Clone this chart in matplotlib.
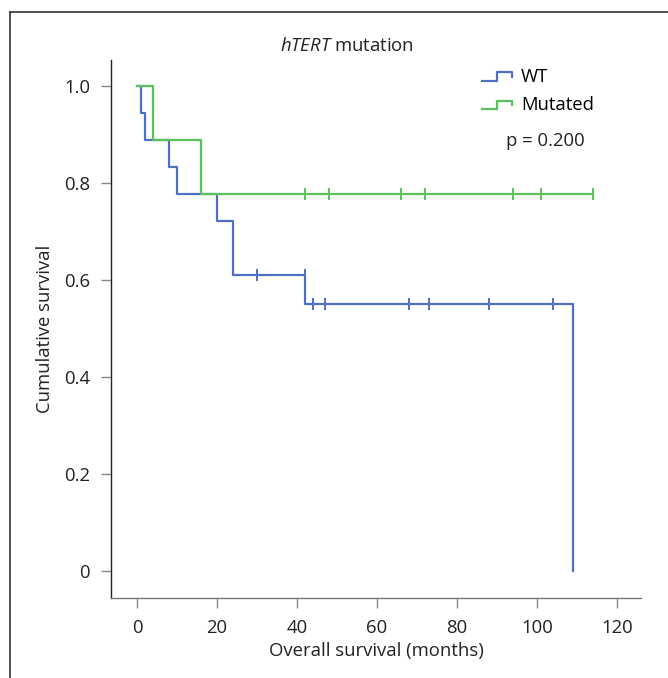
import matplotlib
matplotlib.use("Agg")
import matplotlib.pyplot as plt
from matplotlib.lines import Line2D
from matplotlib.legend_handler import HandlerBase

plt.rcParams["font.family"] = ["Open Sans", "DejaVu Sans"]
plt.rcParams["mathtext.fontset"] = "custom"
plt.rcParams["mathtext.rm"] = "Open Sans"
plt.rcParams["mathtext.it"] = "Open Sans:italic"

# Kaplan-Meier steps
wt_times = [0, 1, 2, 8, 10, 20, 24, 42, 109]
wt_surv = [1.0, 0.944, 0.889, 0.833, 0.778, 0.722, 0.611, 0.550, 0.0]
wt_censor = [30, 42, 44, 47, 68, 73, 88, 104]

mut_times = [0, 4, 16, 114]
mut_surv = [1.0, 0.889, 0.778, 0.778]
mut_censor = [42, 48, 66, 72, 94, 101, 114]

x_ticks = [0, 20, 40, 60, 80, 100, 120]
y_ticks = [0, 0.2, 0.4, 0.6, 0.8, 1.0]
y_labels = ["0", "0.2", "0.4", "0.6", "0.8", "1.0"]

BLUE = "#4f6fc4"
GREEN = "#5cc05c"


def surv_at(times, surv, t):
    val = surv[0]
    for ti, si in zip(times, surv):
        if ti <= t:
            val = si
    return val


class StepHandler(HandlerBase):
    def create_artists(self, legend, orig_handle, xdescent, ydescent,
                       width, height, fontsize, trans):
        x0, x1 = -xdescent, -xdescent + width
        y0, y1 = -ydescent + 0.1 * height, -ydescent + 0.75 * height
        xm = x0 + 0.5 * width
        xs = [x0, xm, xm, x1, x1]
        ys = [y0, y0, y1, y1, y1 - 0.35 * height]
        ln = Line2D(xs, ys, color=orig_handle.get_color(),
                    linewidth=orig_handle.get_linewidth(), transform=trans)
        return [ln]


fig = plt.figure(figsize=(6.68, 6.78), dpi=100)
ax = fig.add_axes([0.1662, 0.118, 0.7934, 0.7935])

ax.step(wt_times, wt_surv, where="post", color=BLUE, lw=1.6)
ax.step(mut_times, mut_surv, where="post", color=GREEN, lw=1.6)
ax.plot(wt_censor, [surv_at(wt_times, wt_surv, t - 0.01) for t in wt_censor],
        ls="none", marker="|", ms=8, mew=1.4, color=BLUE)
ax.plot(mut_censor, [surv_at(mut_times, mut_surv, t) for t in mut_censor],
        ls="none", marker="|", ms=8, mew=1.4, color=GREEN)

ax.set_xlim(-6.5, 126)
ax.set_ylim(-0.056, 1.054)
ax.set_xticks(x_ticks)
ax.set_yticks(y_ticks)
ax.set_yticklabels(y_labels)
for s in ["top", "right"]:
    ax.spines[s].set_visible(False)
for s in ["left", "bottom"]:
    ax.spines[s].set_color("#777777")
    ax.spines[s].set_linewidth(1.0)
ax.spines["left"].set_color("#222222")
ax.tick_params(axis="both", direction="out", length=7, width=1.0,
               color="#888888", labelsize=13.3, labelcolor="#222222", pad=8)
ax.set_xlabel("Overall survival (months)", fontsize=13.3, color="#222222",
              labelpad=4)
ax.set_ylabel("Cumulative survival", fontsize=13.3, color="#222222",
              labelpad=7)

h_wt = Line2D([], [], color=BLUE, lw=1.6)
h_mut = Line2D([], [], color=GREEN, lw=1.6)
ax.legend([h_wt, h_mut], ["WT", "Mutated"], handler_map={Line2D: StepHandler()},
          loc="upper left", bbox_to_anchor=(0.70, 0.985), frameon=False,
          borderpad=0, borderaxespad=0,
          fontsize=13.3, handlelength=1.6, handletextpad=0.5, labelspacing=0.55)
ax.text(0.745, 0.849, "p = 0.200", transform=ax.transAxes, ha="left",
        va="center", fontsize=13.3, color="#222222")

fig.text(347 / 668, 1 - 46 / 678, r"$hTERT$ mutation", ha="center",
         va="center", fontsize=13.3, color="#222222")

# outer frame: left and top edges only
fig.add_artist(Line2D([10 / 668, 10 / 668], [0, 1 - 12 / 678],
                      transform=fig.transFigure, color="#333333", lw=1.2))
fig.add_artist(Line2D([10 / 668, 1], [1 - 12 / 678, 1 - 12 / 678],
                      transform=fig.transFigure, color="#333333", lw=1.2))

fig.savefig("out.png", dpi=100)
